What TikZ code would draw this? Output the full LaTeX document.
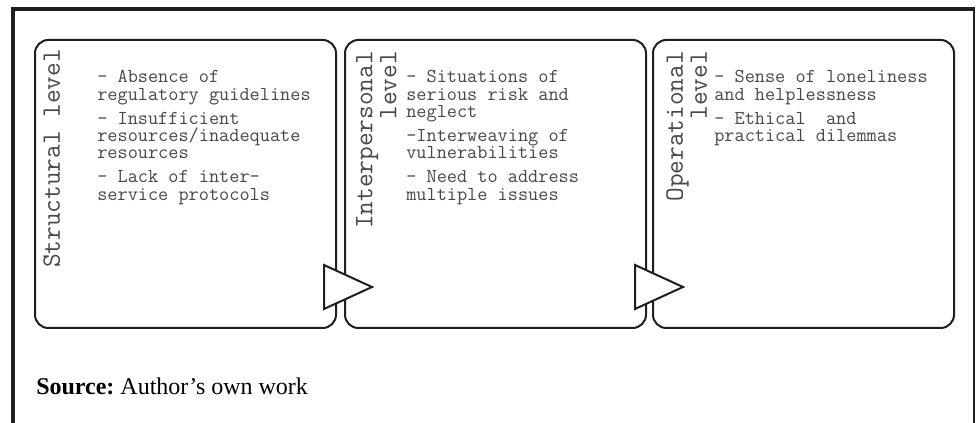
\documentclass[tikz,border=0pt]{standalone}
\usepackage{fontspec}
\setmainfont{Liberation Serif}
\begin{document}
\begin{tikzpicture}[x=0.75pt,y=-0.75pt,
  frame/.style={draw=black!88},
  levelbox/.style={draw=black!88, line width=1.5pt, rounded corners=10pt,
    minimum width=225.75pt, minimum height=216pt, inner sep=0pt},
  chevron/.style={draw=black!88, line width=1.5pt, fill=white, line join=miter},
  body/.style={anchor=north west, inner sep=0pt, align=left, text=black!72,
    font=\ttfamily\fontsize{14.8}{13.1}\selectfont},
  levellabel/.style={anchor=north east, rotate=90, inner sep=0pt, align=right,
    text=black!72, font=\ttfamily\fontsize{19.9}{18}\selectfont}]
\useasboundingbox (0,0) rectangle (976,423);
% outer frame
\draw[frame, line width=3pt] (13,423) -- (13,9.5);
\draw[frame, line width=2.6pt] (11,9) -- (975,9);
\draw[frame, line width=1.6pt] (973.8,8) -- (973.8,423);
% boxes
\node[levelbox] (b1) at (185.5,184) {};
\node[levelbox] (b2) at (495.5,184) {};
\node[levelbox] (b3) at (803.5,184) {};
% chevrons
\draw[chevron] (324,265) -- (372,287) -- (324,309) -- cycle;
\draw[chevron] (635,265) -- (683,287) -- (635,309) -- cycle;
% labels
\node[levellabel] (l1) at (43,49) {Structural level};
\node[levellabel] (l2) at (356,51) {Interpersonal\\level};
\node[levellabel] (l3) at (666,51) {Operational\\level};
% body texts
\node[body] (t1) at (97,70) {- Absence of\\regulatory guidelines\\[4.9pt]- Insufficient\\resources/inadequate\\resources\\[4.9pt]- Lack of inter-\\service protocols};
\node[body] (t2) at (406,70) {- Situations of\\serious risk and\\neglect\\[4.9pt]-Interweaving of\\vulnerabilities\\[4.9pt]- Need to address\\multiple issues};
\node[body] (t3) at (714,70) {- Sense of loneliness\\and helplessness\\[4.9pt]- Ethical\ \ and\\practical dilemmas};
% source
\node[anchor=base west, inner sep=0pt, font=\fontsize{18}{20}\selectfont] (src) at (36,395) {\frenchspacing\textbf{Source:} Author’s own work};
\end{tikzpicture}
\end{document}
